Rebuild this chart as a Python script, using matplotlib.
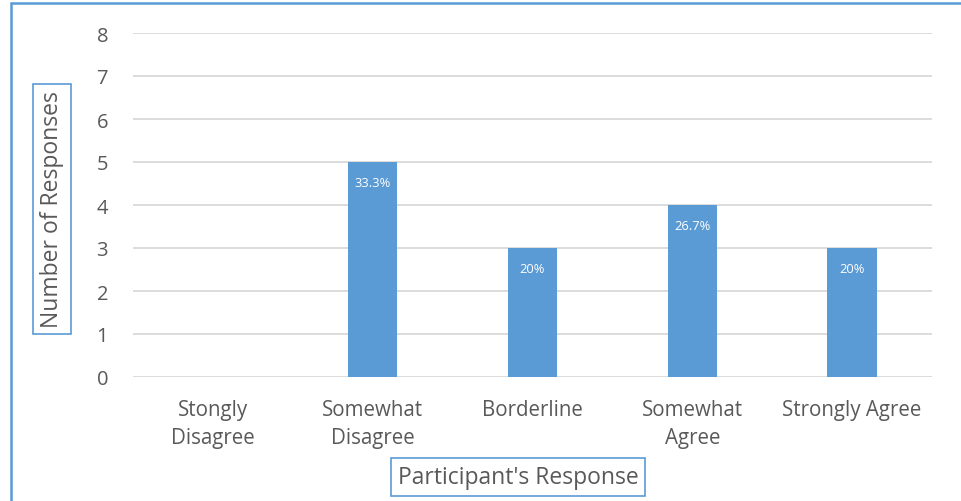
import numpy as np
import matplotlib
matplotlib.use("Agg")
import matplotlib.pyplot as plt
from matplotlib.patches import Rectangle

plt.rcParams['font.family'] = ['Open Sans', 'DejaVu Sans']

categories = ['Stongly\nDisagree', 'Somewhat\nDisagree', 'Borderline',
              'Somewhat\nAgree', 'Strongly Agree']
responses = [0, 5, 3, 4, 3]
yticks = [0, 1, 2, 3, 4, 5, 6, 7, 8]

blue = '#5B9BD5'
grey = '#595959'

fig = plt.figure(figsize=(9.61, 5.02), dpi=100)
ax = fig.add_axes([133 / 961, 1 - 378 / 502, 799 / 961, 344 / 502])

x = np.arange(len(categories))
bars = ax.bar(x, responses, width=0.31, color=blue, zorder=3)

total = sum(responses)
for b, v in zip(bars, responses):
    if v == 0:
        continue
    pct = f"{v / total * 100:.1f}".rstrip('0').rstrip('.') + '%'
    ax.annotate(pct, (b.get_x() + b.get_width() / 2, v), xytext=(0, -14.5),
                textcoords='offset points', ha='center', va='center',
                color='white', fontsize=9.3, zorder=4)

ax.set_xlim(-0.5, len(categories) - 0.5)
ax.set_ylim(0, 8)
ax.set_yticks(yticks)
ax.set_xticks(x)
ax.set_xticklabels(categories, fontsize=14.8, color=grey, linespacing=1.45)
ax.tick_params(axis='y', labelsize=14.5, labelcolor=grey, length=0, pad=18)
ax.tick_params(axis='x', length=0, pad=15.5)
ax.yaxis.grid(True, color='#D9D9D9', linewidth=1.3, zorder=0)
for s in ax.spines.values():
    s.set_visible(False)

box = dict(boxstyle='square,pad=0.3', facecolor='white', edgecolor=blue, linewidth=1.2)
fig.text(52 / 961, 1 - 210 / 502, 'Number of Responses', rotation=90,
         ha='center', va='center', fontsize=16.5, color=grey, bbox=box)
fig.text(518 / 961, 1 - 478 / 502, "Participant's Response",
         ha='center', va='center', fontsize=16.5, color=grey, bbox=box)

# outer frame of the chart
fig.patches.append(Rectangle((11 / 961, -0.2), 1.1, 1.2 - 4 / 502,
                             transform=fig.transFigure, fill=False,
                             edgecolor=blue, linewidth=1.8, clip_on=False))

fig.savefig('out.png', dpi=100)
